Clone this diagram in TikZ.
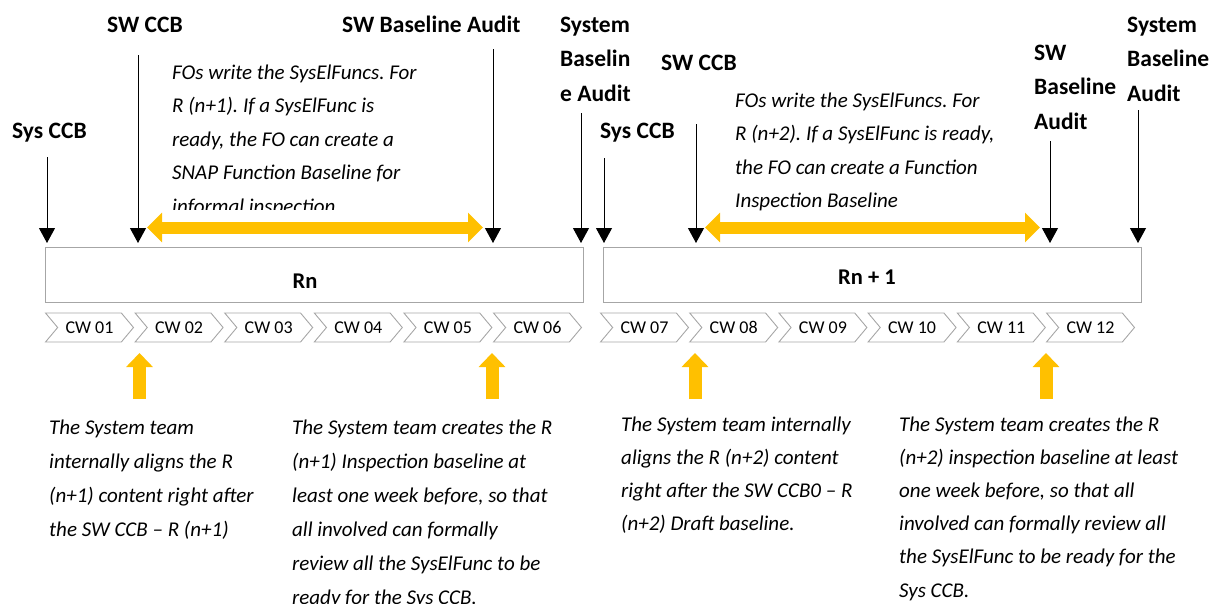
\documentclass[tikz,border=0pt]{standalone}
\usepackage{fontspec}
\setmainfont{Carlito}
\usetikzlibrary{arrows.meta,positioning,shapes.symbols}
\definecolor{gold}{HTML}{FFC000}
\definecolor{rimgray}{HTML}{A6A6A6}
\frenchspacing
\tikzset{
  milestone/.style={font=\fontsize{23.5}{34.5}\selectfont\bfseries, align=left, anchor=base west, inner sep=0pt},
  fotext/.style={font=\fontsize{21}{33.5}\selectfont\itshape, align=left, anchor=base west, inner sep=0pt},
  relbox/.style={draw=rimgray, line width=1.3pt, minimum width=538pt, minimum height=55pt, anchor=north west},
  rellabel/.style={font=\fontsize{22.5}{26}\selectfont\bfseries, inner sep=0pt},
  weekbox/.style={signal, signal from=west, signal to=east, signal pointer angle=100, draw=rimgray, line width=0.9pt,
    minimum width=88pt, minimum height=29pt, inner sep=0pt, font=\fontsize{18}{20}\selectfont},
  drop/.style={-{Triangle[width=16pt,length=15pt]}, line width=1pt, shorten >=4pt},
  window/.style={{Triangle[width=29pt,length=15pt]}-{Triangle[width=29pt,length=15pt]}, draw=gold, line width=12pt},
  hint/.style={-{Triangle[width=26pt,length=14pt]}, draw=gold, line width=13pt},
}
\begin{document}
\begin{tikzpicture}[x=1pt, y=-1pt]
  \useasboundingbox (0,0) rectangle (1231,603);

  % releases
  \node[relbox] (rn) at (45,247) {};
  \node[relbox] (rnext) at (603,247) {};
  \node[rellabel] (rnlabel) at (305,281) {Rn};
  \node[rellabel] (rnextlabel) at (867,277) {Rn + 1};

  % calendar weeks
  \foreach \w [count=\k] in {01,02,03,04,05,06}
    \node[weekbox] (cw\w) at (89.5+\k*89.6-89.6, 327.5) {CW \w};
  \foreach \w [count=\k] in {07,08,09,10,11,12}
    \node[weekbox] (cw\w) at (644.5+\k*89.2-89.2, 327.5) {CW \w};

  % milestones (base = last line)
  \node[milestone] (sysccb1) at (12,138) {Sys CCB};
  \node[milestone] (swccb1) at (107,32) {SW CCB};
  \node[milestone] (swaudit1) at (342,32) {SW Baseline Audit};
  \node[milestone] (sysaudit1) at (560,101) {System\\Baselin\\e Audit};
  \node[milestone] (sysccb2) at (600,138) {Sys CCB};
  \node[milestone] (swccb2) at (661,70) {SW CCB};
  \node[milestone] (swaudit2) at (1034,129) {SW\\Baseline\\Audit};
  \node[milestone] (sysaudit2) at (1127,101) {System\\Baseline\\Audit};

  \coordinate (d1) at (47,157);
  \coordinate (d2) at (138,55);
  \coordinate (d3) at (493,49);
  \coordinate (d4) at (581,113);
  \coordinate (d5) at (604,158);
  \coordinate (d6) at (696,124);
  \coordinate (d7) at (1050,141);
  \coordinate (d8) at (1138,110);
  \foreach \d in {d1,d2,d3,d4}
    \draw[drop] (\d) -- (\d |- rn.north);
  \foreach \d in {d5,d6,d7,d8}
    \draw[drop] (\d) -- (\d |- rnext.north);

  % FO working windows
  \begin{scope}
    \clip (150,40) rectangle (520,209);
    \node[fotext] (fos1) at (172,213) {FOs write the SysElFuncs. For\\R (n+1). If a SysElFunc is\\ready, the FO can create a\\SNAP Function Baseline for\\informal inspection};
  \end{scope}
  \node[fotext] (fos2) at (735,207.5) {FOs write the SysElFuncs. For\\R (n+2). If a SysElFunc is ready,\\the FO can create a Function\\Inspection Baseline};
  \coordinate (w1a) at (147,227.5);
  \coordinate (w1b) at (483,227.5);
  \coordinate (w2a) at (705,227.5);
  \coordinate (w2b) at (1040,227.5);
  \draw[window] (w1a) -- (w1b);
  \draw[window] (w2a) -- (w2b);

  % system team actions
  \coordinate (h1) at (139.5,399);
  \coordinate (h2) at (492,399);
  \coordinate (h3) at (695,399);
  \coordinate (h4) at (1046,399);
  \foreach \h in {h1,h2,h3,h4}
    \draw[hint] (\h) -- ++(0,-46);

  \node[fotext, font=\fontsize{21}{34}\selectfont\itshape] (align1) at (49,536) {The System team\\internally aligns the R\\(n+1) content right after\\the SW CCB -- R (n+1)};
  \node[fotext, font=\fontsize{21}{34}\selectfont\itshape] (create1) at (292,604) {The System team creates the R\\(n+1) Inspection baseline at\\least one week before, so that\\all involved can formally\\review all the SysElFunc to be\\ready for the Sys CCB.};
  \node[fotext, font=\fontsize{21}{33.2}\selectfont\itshape] (align2) at (621,530.6) {The System team internally\\aligns the R (n+2) content\\right after the SW CCB0 -- R\\(n+2) Draft baseline.};
  \node[fotext, font=\fontsize{21}{33.2}\selectfont\itshape] (create2) at (899,597) {The System team creates the R\\(n+2) inspection baseline at least\\one week before, so that all\\involved can formally review all\\the SysElFunc to be ready for the\\Sys CCB.};
\end{tikzpicture}
\end{document}
